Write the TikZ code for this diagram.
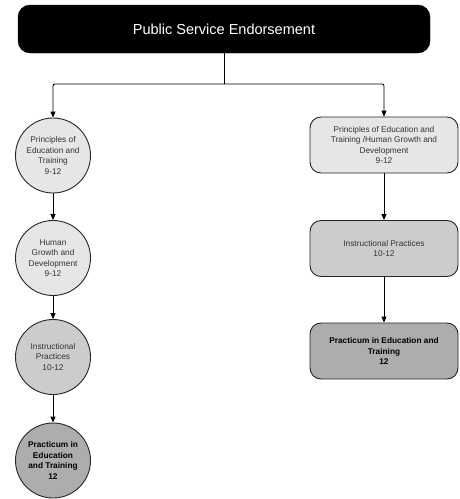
\documentclass[tikz,border=0pt]{standalone}
\usepackage{fontspec}
\setmainfont{Liberation Sans}
\usetikzlibrary{arrows.meta}
\definecolor{tintA}{HTML}{E6E6E6}
\definecolor{tintB}{HTML}{CCCCCC}
\definecolor{tintC}{HTML}{ADADAD}
\begin{document}
\begin{tikzpicture}[x=1pt,y=-1pt,
  every node/.style={font=\fontsize{8.3}{10.4}\selectfont, text=black!80, align=center},
  course/.style={circle, draw=black!85, line width=0.9pt, minimum size=75pt, inner sep=0pt},
  block/.style={rectangle, rounded corners=11pt, draw=black!85, line width=0.9pt,
                minimum width=148pt, minimum height=56pt, inner sep=0pt},
  link/.style={draw=black, line width=0.9pt, -{Triangle[length=6pt,width=5pt]}},
]
\useasboundingbox (0,0) rectangle (459,499);

% header
\node[rectangle, rounded corners=12pt, fill=black, draw=black, minimum width=412pt,
      minimum height=48pt, text=white, font=\fontsize{14.5}{17}\selectfont]
      (top) at (224,29) {Public Service Endorsement};

% left track
\node[course, fill=tintA] (c1) at (53,155.5) {Principles of\\Education and\\Training\\9-12};
\node[course, fill=tintA] (c2) at (53,258) {Human\\Growth and\\Development\\9-12};
\node[course, fill=tintB] (c3) at (53,357) {Instructional\\Practices\\10-12};
\node[course, fill=tintC, font=\fontsize{8.3}{10.4}\selectfont\bfseries, text=black]
      (c4) at (53,460.5) {Practicum in\\Education\\and Training\\12};

% right track
\node[block, fill=tintA] (r1) at (384,145) {Principles of Education and\\Training /Human Growth and\\Development\\9-12};
\node[block, fill=tintB] (r2) at (384,248.5) {Instructional Practices\\10-12};
\node[block, fill=tintC, font=\fontsize{8.3}{10.4}\selectfont\bfseries, text=black]
      (r3) at (384,351) {Practicum in Education and\\Training\\12};

% connectors
\coordinate (j) at (top.south |- 0,84);
\draw[line width=0.9pt] (top.south) -- (j);
\draw[link, rounded corners=2pt] (j) -| (c1.north);
\draw[link, rounded corners=2pt] (j) -| (r1.north);
\draw[link] (c1) -- (c2);
\draw[link] (c2) -- (c3);
\draw[link] (c3) -- (c4);
\draw[link] (r1) -- (r2);
\draw[link] (r2) -- (r3);
\end{tikzpicture}
\end{document}
